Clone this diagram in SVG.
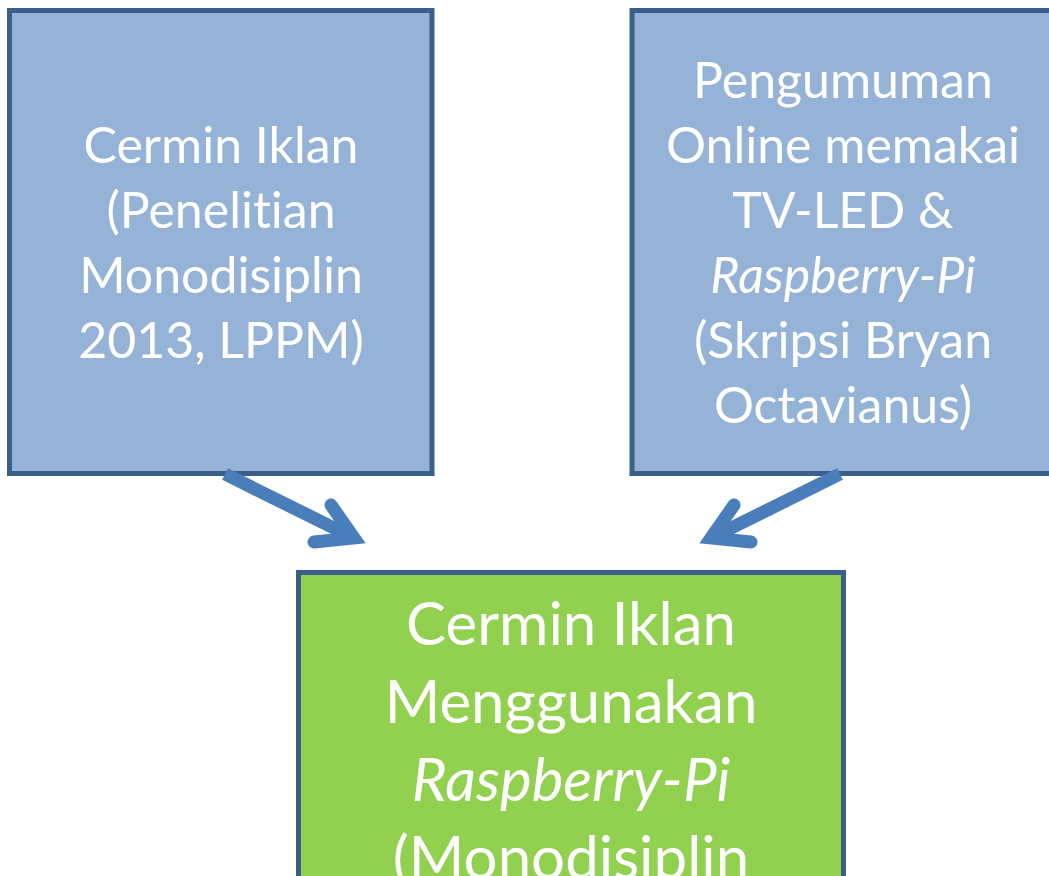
<svg xmlns="http://www.w3.org/2000/svg" width="1049" height="876" viewBox="0 0 1049 876">
<style>
.box{stroke:#3a5f8b;stroke-width:5}
.blue{fill:#95b3d7}
.green{fill:#92d050}
.t{font-family:Lato,"Liberation Sans",sans-serif;fill:#ffffff;text-anchor:middle;font-variant-ligatures:none;font-feature-settings:"liga" 0,"clig" 0}
.s{font-size:50px}
.l{font-size:60px}
.i{font-style:italic}
.arr{fill:none;stroke:#4a7ebb;stroke-width:13}
</style>
<rect width="1049" height="876" fill="#ffffff"/>
<g id="node-left">
<rect class="box blue" x="9.5" y="10.5" width="422.5" height="463"/>
<text class="t s" x="221" y="163">Cermin Iklan</text>
<text class="t s" x="221" y="228">(Penelitian</text>
<text class="t s" x="221" y="293">Monodisiplin</text>
<text class="t s" x="221" y="358">2013, LPPM)</text>
</g>
<g id="node-right">
<rect class="box blue" x="632" y="10.5" width="422" height="463"/>
<text class="t s" x="843" y="98">Pengumuman</text>
<text class="t s" x="843" y="163">Online memakai</text>
<text class="t s" x="843" y="228">TV-LED &amp;</text>
<text class="t s i" x="843" y="293">Raspberry-Pi</text>
<text class="t s" x="843" y="358">(Skripsi Bryan</text>
<text class="t s" x="843" y="423">Octavianus)</text>
</g>
<g id="node-bottom">
<rect class="box green" x="298.5" y="572.5" width="545" height="400"/>
<text class="t l" x="571" y="645">Cermin Iklan</text>
<text class="t l" x="571" y="723">Menggunakan</text>
<text class="t l i" x="571" y="801">Raspberry-Pi</text>
<text class="t l" x="571" y="879">(Monodisiplin</text>
</g>
<g id="connectors">
<path class="arr" d="M225,474 L354,538"/>
<path class="arr" d="M331,505 L354,538 L314,542" stroke-linecap="round" stroke-linejoin="miter"/>
<path class="arr" d="M840,474 L711,538"/>
<path class="arr" d="M734,505 L711,538 L751,542" stroke-linecap="round" stroke-linejoin="miter"/>
</g>
</svg>
